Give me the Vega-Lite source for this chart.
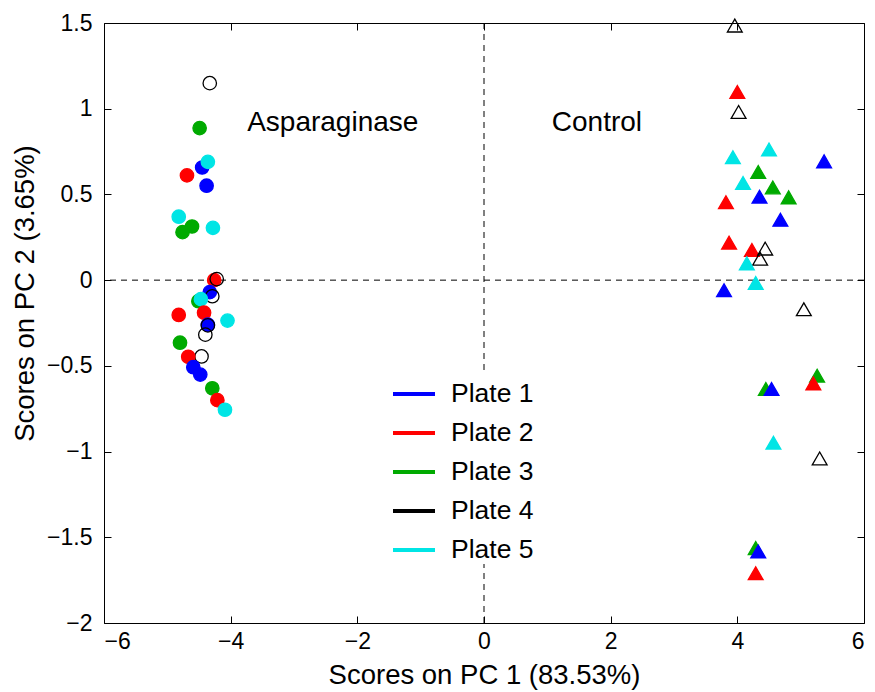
{
  "$schema": "https://vega.github.io/schema/vega-lite/v6.json",
  "autosize": {"type": "none"},
  "width": 760,
  "height": 600,
  "padding": {"left": 104, "top": 23, "right": 11, "bottom": 69},
  "background": "white",
  "config": {
    "view": {"stroke": "black", "strokeWidth": 1},
    "font": "Liberation Sans",
    "axis": {
      "domainColor": "black",
      "tickColor": "black",
      "labelColor": "black",
      "titleColor": "black",
      "labelFont": "Liberation Sans",
      "titleFont": "Liberation Sans",
      "labelFontSize": 23,
      "titleFontSize": 27.5,
      "titleFontWeight": "normal",
      "grid": false,
      "tickSize": 7,
      "tickWidth": 1,
      "offset": -7,
      "domain": false
    }
  },
  "datasets": {
    "pts": [
      {"x": -4.33, "y": 1.149, "plate": "Plate 4", "group": "Asparaginase"},
      {"x": -4.49, "y": 0.887, "plate": "Plate 3", "group": "Asparaginase"},
      {"x": -4.45, "y": 0.657, "plate": "Plate 1", "group": "Asparaginase"},
      {"x": -4.36, "y": 0.69, "plate": "Plate 5", "group": "Asparaginase"},
      {"x": -4.69, "y": 0.611, "plate": "Plate 2", "group": "Asparaginase"},
      {"x": -4.38, "y": 0.551, "plate": "Plate 1", "group": "Asparaginase"},
      {"x": -4.82, "y": 0.37, "plate": "Plate 5", "group": "Asparaginase"},
      {"x": -4.61, "y": 0.313, "plate": "Plate 3", "group": "Asparaginase"},
      {"x": -4.76, "y": 0.28, "plate": "Plate 3", "group": "Asparaginase"},
      {"x": -4.28, "y": 0.305, "plate": "Plate 5", "group": "Asparaginase"},
      {"x": -4.26, "y": 0.0, "plate": "Plate 2", "group": "Asparaginase"},
      {"x": -4.22, "y": 0.006, "plate": "Plate 4", "group": "Asparaginase"},
      {"x": -4.33, "y": -0.07, "plate": "Plate 1", "group": "Asparaginase"},
      {"x": -4.29, "y": -0.094, "plate": "Plate 4", "group": "Asparaginase"},
      {"x": -4.51, "y": -0.123, "plate": "Plate 3", "group": "Asparaginase"},
      {"x": -4.47, "y": -0.111, "plate": "Plate 5", "group": "Asparaginase"},
      {"x": -4.42, "y": -0.19, "plate": "Plate 2", "group": "Asparaginase"},
      {"x": -4.82, "y": -0.203, "plate": "Plate 2", "group": "Asparaginase"},
      {"x": -4.05, "y": -0.236, "plate": "Plate 5", "group": "Asparaginase"},
      {"x": -4.36, "y": -0.26, "plate": "Plate 1", "group": "Asparaginase"},
      {"x": -4.36, "y": -0.264, "plate": "Plate 4", "group": "Asparaginase"},
      {"x": -4.4, "y": -0.318, "plate": "Plate 4", "group": "Asparaginase"},
      {"x": -4.8, "y": -0.365, "plate": "Plate 3", "group": "Asparaginase"},
      {"x": -4.46, "y": -0.445, "plate": "Plate 4", "group": "Asparaginase"},
      {"x": -4.67, "y": -0.447, "plate": "Plate 2", "group": "Asparaginase"},
      {"x": -4.59, "y": -0.508, "plate": "Plate 1", "group": "Asparaginase"},
      {"x": -4.48, "y": -0.551, "plate": "Plate 1", "group": "Asparaginase"},
      {"x": -4.29, "y": -0.631, "plate": "Plate 3", "group": "Asparaginase"},
      {"x": -4.21, "y": -0.7, "plate": "Plate 2", "group": "Asparaginase"},
      {"x": -4.09, "y": -0.756, "plate": "Plate 5", "group": "Asparaginase"},
      {"x": 3.96, "y": 1.485, "plate": "Plate 4", "group": "Control"},
      {"x": 4.0, "y": 1.098, "plate": "Plate 2", "group": "Control"},
      {"x": 4.02, "y": 0.981, "plate": "Plate 4", "group": "Control"},
      {"x": 3.93, "y": 0.717, "plate": "Plate 5", "group": "Control"},
      {"x": 4.5, "y": 0.762, "plate": "Plate 5", "group": "Control"},
      {"x": 5.37, "y": 0.693, "plate": "Plate 1", "group": "Control"},
      {"x": 4.33, "y": 0.631, "plate": "Plate 3", "group": "Control"},
      {"x": 4.09, "y": 0.567, "plate": "Plate 5", "group": "Control"},
      {"x": 4.56, "y": 0.541, "plate": "Plate 3", "group": "Control"},
      {"x": 4.35, "y": 0.487, "plate": "Plate 1", "group": "Control"},
      {"x": 4.81, "y": 0.483, "plate": "Plate 3", "group": "Control"},
      {"x": 3.82, "y": 0.455, "plate": "Plate 2", "group": "Control"},
      {"x": 4.68, "y": 0.352, "plate": "Plate 1", "group": "Control"},
      {"x": 3.87, "y": 0.219, "plate": "Plate 2", "group": "Control"},
      {"x": 4.23, "y": 0.176, "plate": "Plate 2", "group": "Control"},
      {"x": 4.44, "y": 0.184, "plate": "Plate 4", "group": "Control"},
      {"x": 4.36, "y": 0.125, "plate": "Plate 4", "group": "Control"},
      {"x": 4.15, "y": 0.098, "plate": "Plate 5", "group": "Control"},
      {"x": 4.29, "y": -0.016, "plate": "Plate 5", "group": "Control"},
      {"x": 3.79, "y": -0.059, "plate": "Plate 1", "group": "Control"},
      {"x": 5.05, "y": -0.17, "plate": "Plate 4", "group": "Control"},
      {"x": 5.26, "y": -0.557, "plate": "Plate 3", "group": "Control"},
      {"x": 5.2, "y": -0.602, "plate": "Plate 2", "group": "Control"},
      {"x": 4.45, "y": -0.635, "plate": "Plate 3", "group": "Control"},
      {"x": 4.54, "y": -0.635, "plate": "Plate 1", "group": "Control"},
      {"x": 4.57, "y": -0.948, "plate": "Plate 5", "group": "Control"},
      {"x": 5.3, "y": -1.04, "plate": "Plate 4", "group": "Control"},
      {"x": 4.29, "y": -1.563, "plate": "Plate 3", "group": "Control"},
      {"x": 4.33, "y": -1.583, "plate": "Plate 1", "group": "Control"},
      {"x": 4.29, "y": -1.71, "plate": "Plate 2", "group": "Control"}
    ],
    "labels": [
      {"x": -3.74, "y": 0.914, "label": "Asparaginase"},
      {"x": 1.07, "y": 0.914, "label": "Control"}
    ],
    "origin": [{"x": 0, "y": 0}]
  },
  "layer": [
    {
      "data": {"name": "origin"},
      "mark": {"type": "rule", "strokeDash": [6, 5], "color": "black", "strokeWidth": 1},
      "encoding": {
        "y": {"field": "y", "type": "quantitative", "scale": {"domain": [-2, 1.5], "nice": false, "zero": false},
          "axis": {"orient": "right", "labels": false, "title": null, "values": [-2, -1.5, -1, -0.5, 0, 0.5, 1, 1.5]}}
      }
    },
    {
      "data": {"name": "origin"},
      "mark": {"type": "rule", "strokeDash": [6, 5], "color": "black", "strokeWidth": 1},
      "encoding": {
        "x": {"field": "x", "type": "quantitative", "scale": {"domain": [-6, 6], "nice": false, "zero": false},
          "axis": {"orient": "top", "labels": false, "title": null, "values": [-6, -4, -2, 0, 2, 4, 6]}}
      }
    },
    {
      "data": {"name": "pts"},
      "mark": {"type": "point", "filled": false, "strokeWidth": 1.3, "opacity": 1},
      "encoding": {
        "x": {"field": "x", "type": "quantitative", "scale": {"domain": [-6, 6], "nice": false, "zero": false},
          "axis": {"orient": "bottom", "title": "Scores on PC 1 (83.53%)", "values": [-6, -4, -2, 0, 2, 4, 6], "format": "~g", "labelPadding": 7, "titlePadding": 8}},
        "y": {"field": "y", "type": "quantitative", "scale": {"domain": [-2, 1.5], "nice": false, "zero": false},
          "axis": {"orient": "left", "title": "Scores on PC 2 (3.65%)", "values": [-2, -1.5, -1, -0.5, 0, 0.5, 1, 1.5], "format": "~g", "labelPadding": 12, "titlePadding": 7, "titleY": 270}},
        "shape": {"field": "group", "type": "nominal", "scale": {"domain": ["Asparaginase", "Control"], "range": ["circle", "triangle-up"]}, "legend": null},
        "size": {"field": "group", "type": "nominal", "scale": {"domain": ["Asparaginase", "Control"], "range": [180, 220]}, "legend": null},
        "fill": {"field": "plate", "type": "nominal", "scale": {"domain": ["Plate 1", "Plate 2", "Plate 3", "Plate 4", "Plate 5"], "range": ["#0000ff", "#ff0000", "#00aa00", "transparent", "#00e5e5"]},
          "legend": {"title": null, "orient": "none", "legendX": 287, "legendY": 348, "symbolType": "stroke", "symbolSize": 1764, "symbolStrokeWidth": 4, "labelFontSize": 26.5, "labelFont": "Liberation Sans", "labelColor": "black", "labelOffset": 14, "rowPadding": 2, "padding": 0, "fillColor": "white"}},
        "stroke": {"field": "plate", "type": "nominal", "scale": {"domain": ["Plate 1", "Plate 2", "Plate 3", "Plate 4", "Plate 5"], "range": ["#0000ff", "#ff0000", "#00aa00", "#000000", "#00e5e5"]},
          "legend": {"title": null, "orient": "none", "legendX": 287, "legendY": 348, "symbolType": "stroke", "symbolSize": 1764, "symbolStrokeWidth": 4, "labelFontSize": 26.5, "labelFont": "Liberation Sans", "labelColor": "black", "labelOffset": 14, "rowPadding": 2, "padding": 0, "fillColor": "white"}}
      }
    },
    {
      "data": {"name": "labels"},
      "mark": {"type": "text", "align": "left", "baseline": "middle", "fontSize": 28, "font": "Liberation Sans", "color": "black"},
      "encoding": {
        "x": {"field": "x", "type": "quantitative", "axis": null},
        "y": {"field": "y", "type": "quantitative", "axis": null},
        "text": {"field": "label"}
      }
    }
  ],
  "resolve": {"axis": {"x": "independent", "y": "independent"}}
}
